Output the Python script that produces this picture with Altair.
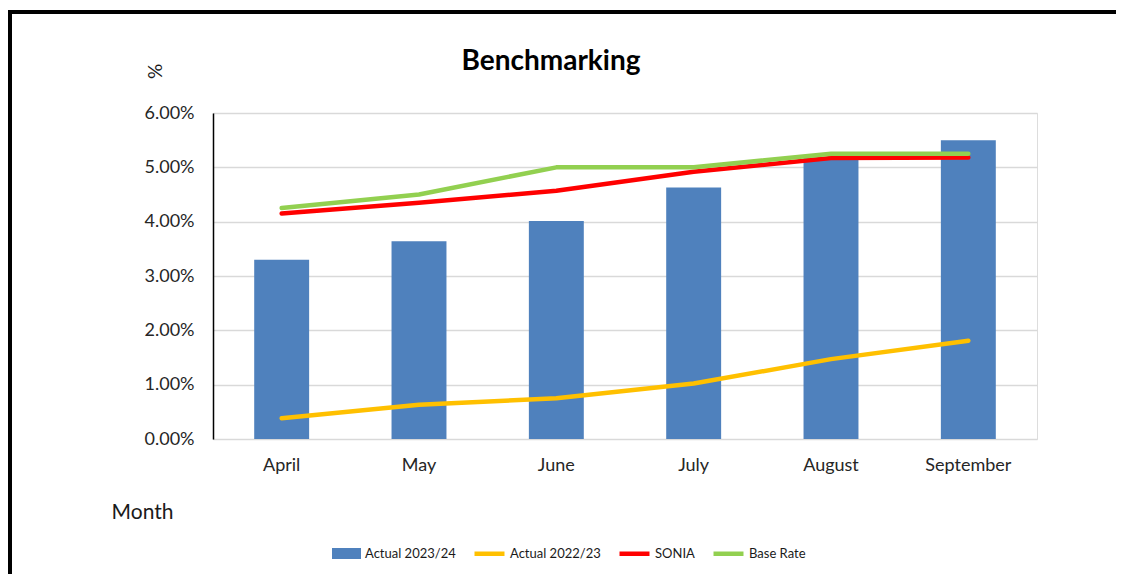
import altair as alt
import pandas as pd

months = ["April", "May", "June", "July", "August", "September"]
actual_2324 = [0.0330, 0.0364, 0.0401, 0.0463, 0.0518, 0.0550]
actual_2223 = [0.0038, 0.0063, 0.0075, 0.0102, 0.0147, 0.0181]
sonia = [0.0415, 0.0435, 0.0457, 0.0492, 0.0517, 0.0518]
base_rate = [0.0425, 0.0450, 0.0500, 0.0500, 0.0525, 0.0525]

line_names = ["Actual 2022/23", "SONIA", "Base Rate"]
line_colors = ["#ffc000", "#ff0000", "#92d050"]
bar_name = "Actual 2023/24"
bar_color = "#4f81bd"
chart_title = "Benchmarking"

FONT = "Lato"
W, H = 824, 326

bars_df = pd.DataFrame({"month": months, "value": actual_2324, "series": bar_name})
rows = []
for name, vals in zip(line_names, [actual_2223, sonia, base_rate]):
    for m, v in zip(months, vals):
        rows.append({"month": m, "value": v, "series": name})
lines_df = pd.DataFrame(rows)

x_enc = alt.X(
    "month:N",
    sort=months,
    scale=alt.Scale(paddingInner=0.6, paddingOuter=0.3),
    axis=alt.Axis(
        title="Month", titleX=-71, titleY=73, titleAlign="center",
        titleBaseline="middle", titleFontSize=21, titleFontWeight="normal",
        titleColor="#1a1a1a", titleFont=FONT,
        labelAngle=0, labelFontSize=18, labelColor="#262626", labelFont=FONT,
        labelPadding=17, ticks=False, domain=False, grid=False,
    ),
)
y_enc = alt.Y(
    "value:Q",
    scale=alt.Scale(domain=[0, 0.06], nice=False),
    axis=alt.Axis(
        format=".2%", values=[0, 0.01, 0.02, 0.03, 0.04, 0.05, 0.06],
        title="%", titleAngle=-90, titleX=-58, titleY=-42, titleAlign="center",
        titleBaseline="middle", titleFontSize=19, titleFontWeight="normal",
        titleColor="#1a1a1a", titleFont=FONT,
        labelFontSize=18, labelColor="#262626", labelFont=FONT, labelPadding=19,
        ticks=False, domain=True, domainColor="#000000", domainWidth=1.5,
        grid=True, gridColor="#d9d9d9", gridWidth=1.3,
    ),
)

bars = alt.Chart(bars_df).mark_bar(color=bar_color).encode(
    x=x_enc,
    y=y_enc,
    fill=alt.Fill(
        "series:N",
        scale=alt.Scale(domain=[bar_name], range=[bar_color]),
        legend=alt.Legend(
            title=None, orient="none", legendX=119, legendY=426,
            symbolType="M-1,-0.38H1V0.38H-1Z", symbolSize=841,
            symbolStrokeWidth=0, labelFontSize=13, labelFont=FONT,
            labelColor="#1a1a1a", labelOffset=4,
        ),
    ),
)

line_layers = []
for i, name in enumerate(line_names):
    stroke_kwargs = dict(scale=alt.Scale(domain=line_names, range=line_colors))
    if i == 0:
        stroke_kwargs["legend"] = alt.Legend(
            title=None, orient="none", legendX=259, legendY=423,
            direction="horizontal", columnPadding=9,
            symbolType="stroke", symbolSize=900, symbolStrokeWidth=4.5,
            labelFontSize=13, labelFont=FONT, labelColor="#1a1a1a", labelOffset=3,
        )
    else:
        stroke_kwargs["legend"] = None
    layer = alt.Chart(lines_df).transform_filter(
        alt.datum.series == name
    ).mark_line(strokeWidth=4.5, strokeCap="round", strokeJoin="round").encode(
        x=alt.X("month:N", sort=months),
        y=alt.Y("value:Q"),
        stroke=alt.Stroke("series:N", **stroke_kwargs),
    )
    line_layers.append(layer)

title_mark = alt.Chart(pd.DataFrame({"t": [chart_title]})).mark_text(
    font=FONT, fontSize=28, fontWeight="bold", color="#000000",
    align="center", baseline="alphabetic",
).encode(text="t:N", x=alt.value(338), y=alt.value(-43))

frame = alt.Chart(pd.DataFrame({"a": [0]})).mark_rect(
    fill="transparent", stroke="#000000", strokeWidth=4
).encode(
    x=alt.value(-203), x2=alt.value(1200), y=alt.value(-101), y2=alt.value(700)
)

chart = alt.layer(bars, *line_layers, title_mark, frame).resolve_scale(
    stroke="shared"
).properties(
    width=W,
    height=H,
    autosize=alt.AutoSizeParams(type="none"),
    padding={"left": 205, "top": 105, "right": 79, "bottom": 135},
).configure_view(stroke=None).configure(background="white")

chart.save("out.html", embed_options={"renderer": "svg", "actions": False})
